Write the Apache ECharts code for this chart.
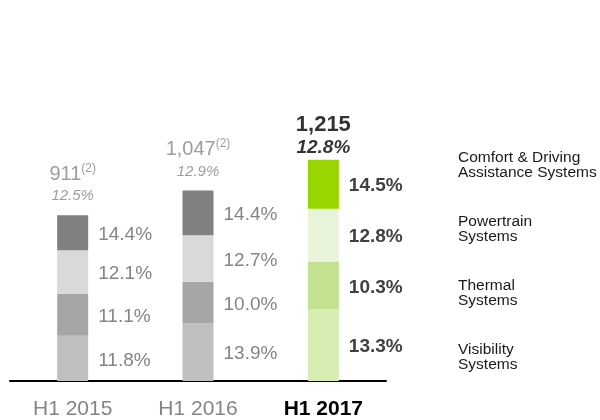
<!DOCTYPE html>
<html>
<head>
<meta charset="utf-8">
<script src="https://cdn.jsdelivr.net/npm/echarts@6/dist/echarts.min.js"></script>
<style>html,body{margin:0;padding:0;background:#fff}#c{width:600px;height:420px}</style>
</head>
<body>
<div id="c"></div>
<script>
// ---- data ----
var categories = ['H1 2015', 'H1 2016', 'H1 2017'];
var seriesNames = ['Visibility Systems', 'Thermal Systems', 'Powertrain Systems', 'Comfort & Driving Assistance Systems'];
var legendLabels = ['Visibility\nSystems', 'Thermal\nSystems', 'Powertrain\nSystems', 'Comfort & Driving\nAssistance Systems'];
var visibility = [248, 316, 394];
var thermal = [230, 229, 263];
var powertrain = [241, 256, 290];
var comfort = [192, 246, 268];
var visibilityMargin = [11.8, 13.9, 13.3];
var thermalMargin = [11.1, 10.0, 10.3];
var powertrainMargin = [12.1, 12.7, 12.8];
var comfortMargin = [14.4, 14.4, 14.5];
var totals = [911, 1047, 1215];
var totalLabels = ['911', '1,047', '1,215'];
var totalMargins = [12.5, 12.9, 12.8];
var totalNotes = ['(2)', '(2)', ''];

var greyColors = ['#bfbfbf', '#a6a6a6', '#d9d9d9', '#808080'];
var greenColors = ['#d8edb4', '#c3e28f', '#e9f5da', '#99d600'];
var values = [visibility, thermal, powertrain, comfort];
var margins = [visibilityMargin, thermalMargin, powertrainMargin, comfortMargin];
var FONT = '"Liberation Sans", Arial, sans-serif';

var series = seriesNames.map(function (name, si) {
  return {
    name: name,
    type: 'bar',
    stack: 'total',
    barWidth: 31,
    itemStyle: { color: greenColors[si] },
    data: values[si].map(function (v, i) {
      var last = i === categories.length - 1;
      return {
        value: v,
        itemStyle: { color: last ? greenColors[si] : greyColors[si] },
        label: {
          show: true,
          position: 'right',
          distance: 10,
          formatter: margins[si][i].toFixed(1) + '%',
          color: last ? '#404040' : '#858585',
          fontWeight: last ? 'bold' : 'normal',
          fontSize: 19,
          fontFamily: FONT,
          offset: [0, 2]
        }
      };
    })
  };
});

series.push({
  name: 'total',
  type: 'scatter',
  symbolSize: 0,
  silent: true,
  data: totals.map(function (t, i) {
    var last = i === categories.length - 1;
    var fmt = last
      ? '{vb|' + totalLabels[i] + '}\n{mb|' + totalMargins[i].toFixed(1) + '%}'
      : '{v|' + totalLabels[i] + '}{s|' + totalNotes[i] + '}\n{m|' + totalMargins[i].toFixed(1) + '%}';
    return {
      value: [i, t],
      label: {
        show: true,
        position: 'top',
        distance: last ? 1 : 9,
        formatter: fmt,
        align: 'center',
        rich: {
          v: { fontSize: 20, color: '#858585', fontFamily: FONT, lineHeight: 24 },
          s: { fontSize: 12, color: '#858585', fontFamily: FONT, verticalAlign: 'top', lineHeight: 24, padding: [0, 0, 8, 0] },
          m: { fontSize: 15, color: '#858585', fontStyle: 'italic', fontFamily: FONT, lineHeight: 20 },
          vb: { fontSize: 22, color: '#000', fontWeight: 'bold', fontFamily: FONT, lineHeight: 24 },
          mb: { fontSize: 19, color: '#000', fontWeight: 'bold', fontStyle: 'italic', fontFamily: FONT, lineHeight: 22 }
        }
      }
    };
  })
});

var chart = echarts.init(document.getElementById('c'), null, { renderer: 'canvas' });
chart.setOption({
  animation: false,
  backgroundColor: '#fff',
  textStyle: { fontFamily: FONT },
  grid: { left: 10, right: 214, top: 108, bottom: 38, containLabel: false },
  legend: {
    orient: 'vertical',
    left: 448,
    top: 145,
    itemWidth: 0,
    itemHeight: 0,
    itemGap: 33,
    selectedMode: false,
    data: seriesNames.slice().reverse(),
    formatter: function (name) { return legendLabels[seriesNames.indexOf(name)]; },
    textStyle: { fontSize: 15.5, lineHeight: 15, color: '#1a1a1a', fontFamily: FONT }
  },
  xAxis: {
    type: 'category',
    data: categories.map(function (c, i) {
      var last = i === categories.length - 1;
      return { value: c, textStyle: { color: last ? '#000' : '#858585', fontWeight: last ? 'bold' : 'normal', fontSize: 21, fontFamily: FONT } };
    }),
    axisLine: { show: true, lineStyle: { color: '#000', width: 2 } },
    axisTick: { show: false },
    axisLabel: { margin: 18 }
  },
  yAxis: {
    type: 'value',
    min: 0,
    max: 1500,
    show: false,
    splitLine: { show: false }
  },
  series: series
});
</script>
</body>
</html>
